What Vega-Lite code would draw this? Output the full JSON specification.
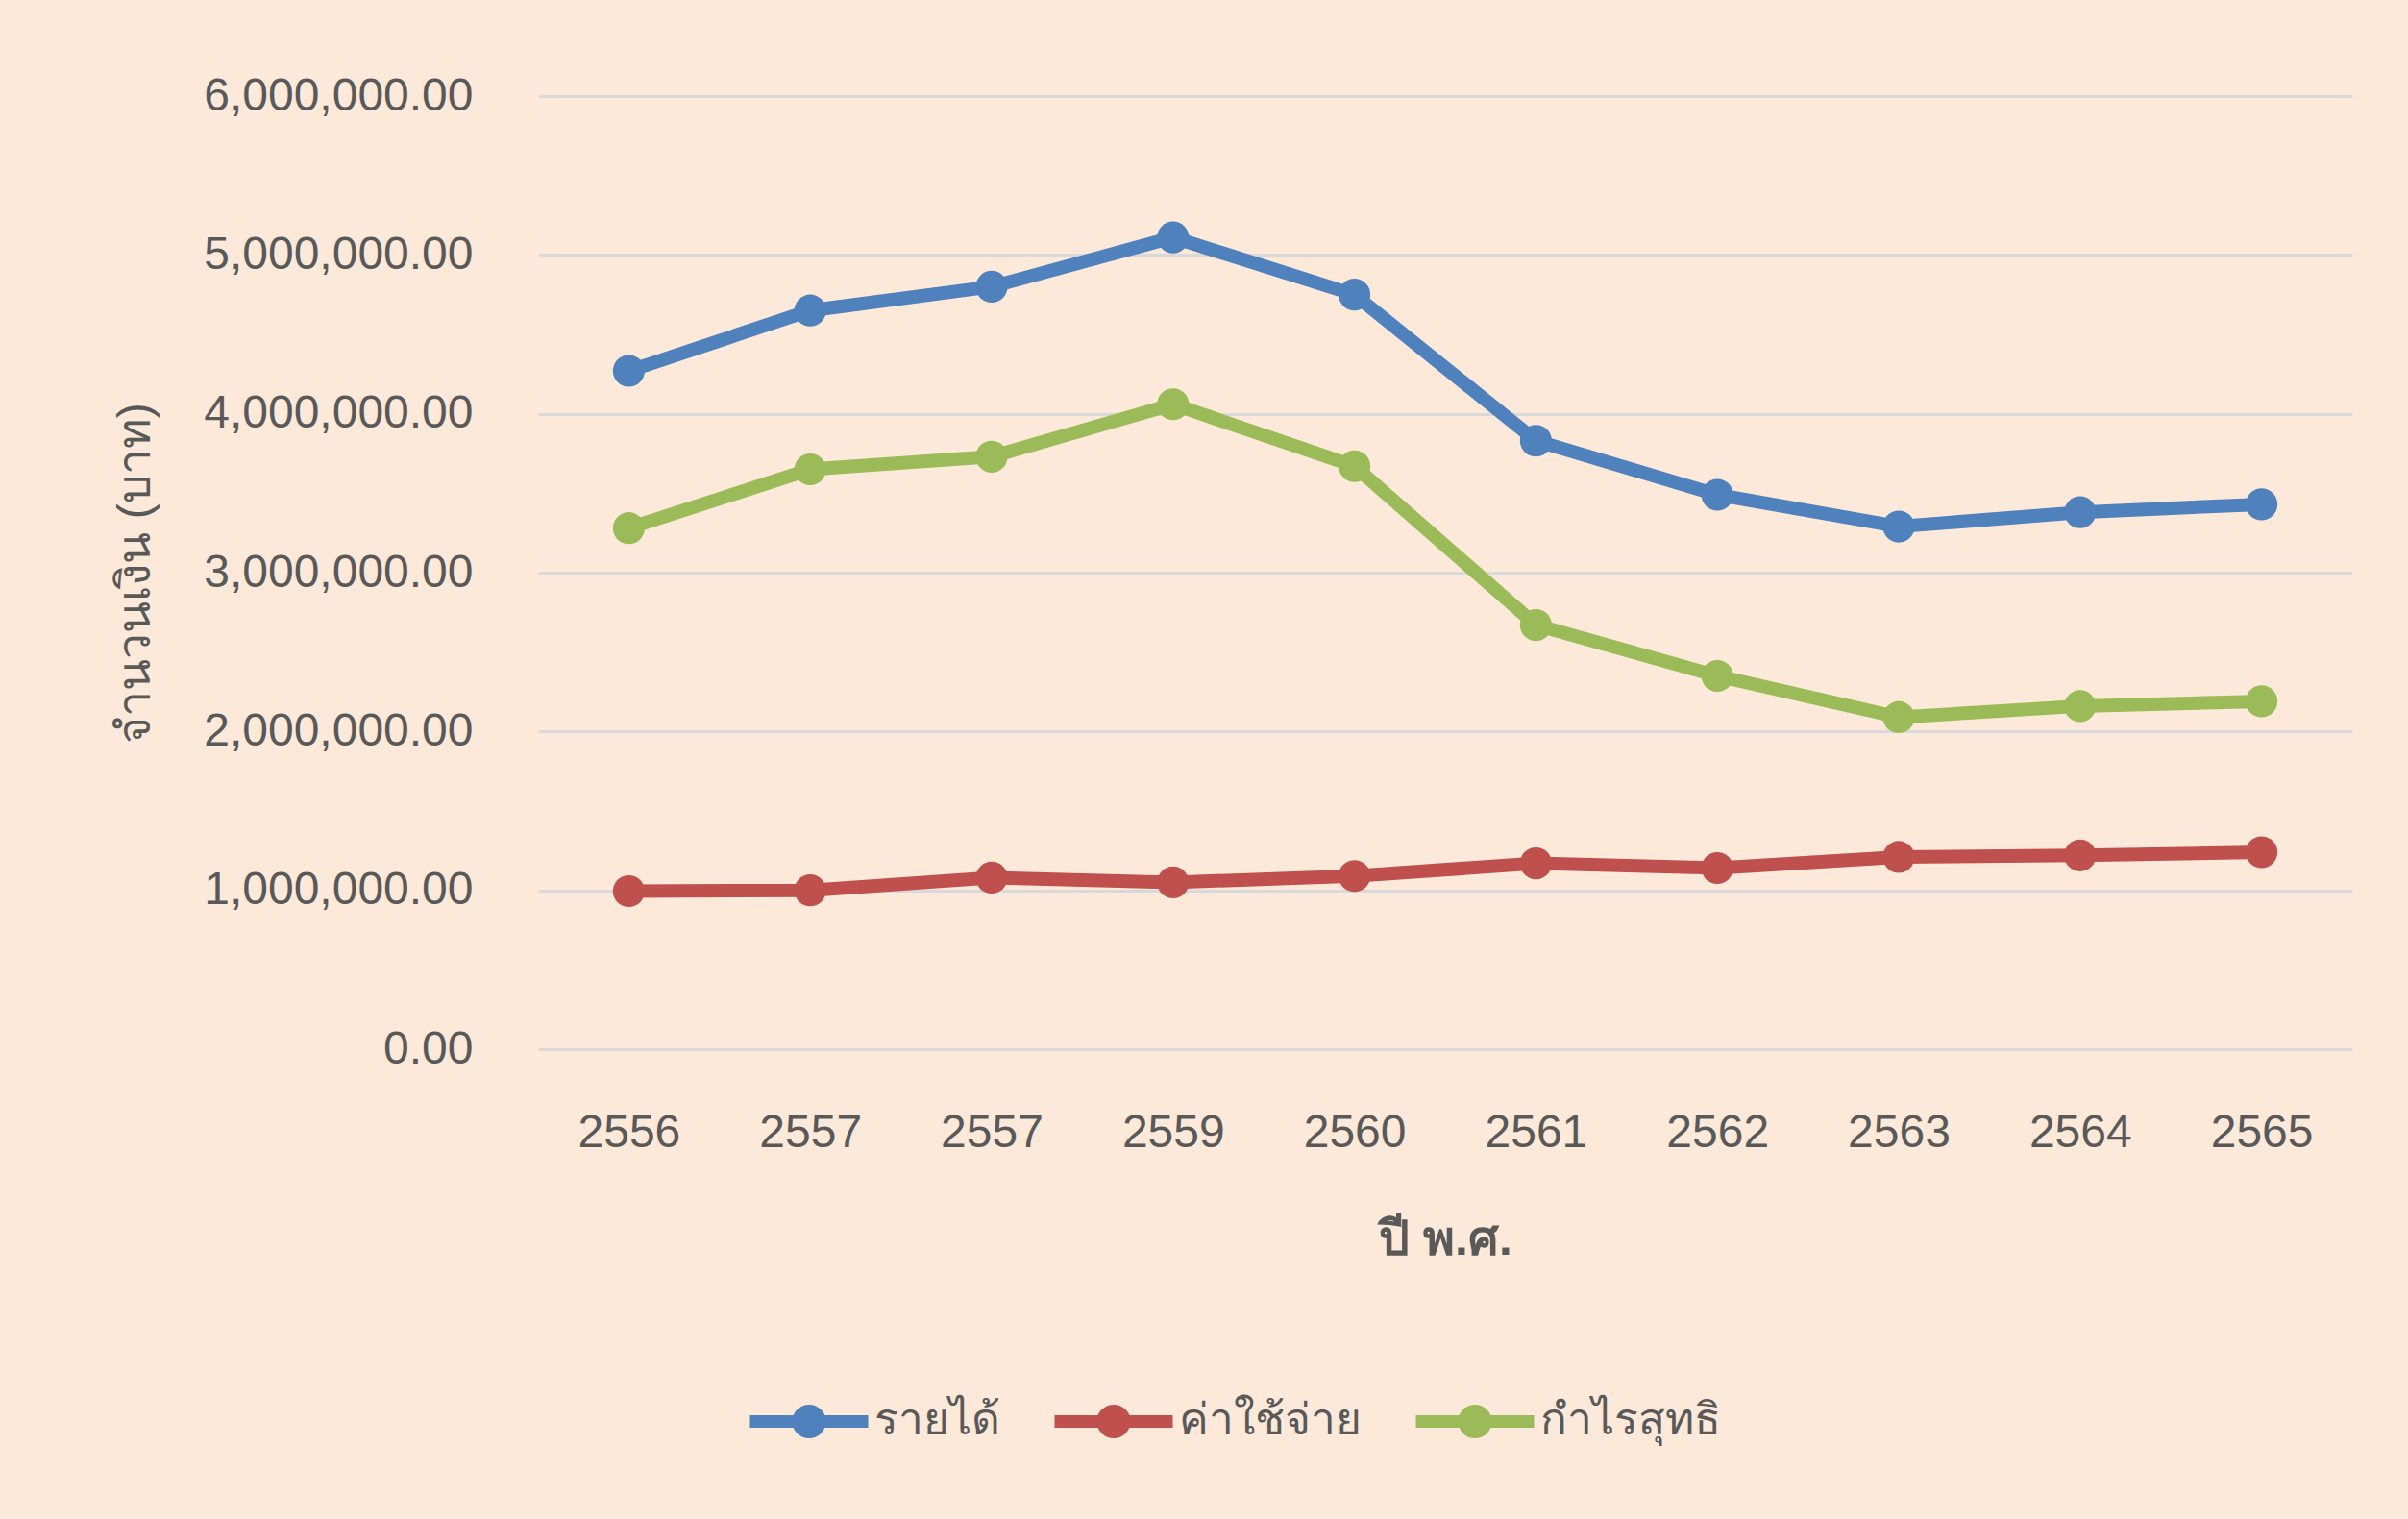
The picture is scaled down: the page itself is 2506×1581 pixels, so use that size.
{
  "$schema": "https://vega.github.io/schema/vega-lite/v6.json",
  "width": 1888,
  "height": 992,
  "autosize": {"type": "none"},
  "padding": {"left": 560, "top": 100, "right": 58, "bottom": 489},
  "background": "#FDE9D9",
  "config": {"view": {"stroke": null}, "font": "Liberation Sans"},
  "data": {
    "values": [
      {"ปี": "2556", "รายการ": "รายได้", "จำนวนเงิน": 4270000},
      {"ปี": "2557", "รายการ": "รายได้", "จำนวนเงิน": 4650000},
      {"ปี": "2557 ", "รายการ": "รายได้", "จำนวนเงิน": 4800000},
      {"ปี": "2559", "รายการ": "รายได้", "จำนวนเงิน": 5110000},
      {"ปี": "2560", "รายการ": "รายได้", "จำนวนเงิน": 4750000},
      {"ปี": "2561", "รายการ": "รายได้", "จำนวนเงิน": 3830000},
      {"ปี": "2562", "รายการ": "รายได้", "จำนวนเงิน": 3490000},
      {"ปี": "2563", "รายการ": "รายได้", "จำนวนเงิน": 3290000},
      {"ปี": "2564", "รายการ": "รายได้", "จำนวนเงิน": 3380000},
      {"ปี": "2565", "รายการ": "รายได้", "จำนวนเงิน": 3430000},
      {"ปี": "2556", "รายการ": "ค่าใช้จ่าย", "จำนวนเงิน": 995000},
      {"ปี": "2557", "รายการ": "ค่าใช้จ่าย", "จำนวนเงิน": 1000000},
      {"ปี": "2557 ", "รายการ": "ค่าใช้จ่าย", "จำนวนเงิน": 1080000},
      {"ปี": "2559", "รายการ": "ค่าใช้จ่าย", "จำนวนเงิน": 1050000},
      {"ปี": "2560", "รายการ": "ค่าใช้จ่าย", "จำนวนเงิน": 1090000},
      {"ปี": "2561", "รายการ": "ค่าใช้จ่าย", "จำนวนเงิน": 1170000},
      {"ปี": "2562", "รายการ": "ค่าใช้จ่าย", "จำนวนเงิน": 1140000},
      {"ปี": "2563", "รายการ": "ค่าใช้จ่าย", "จำนวนเงิน": 1210000},
      {"ปี": "2564", "รายการ": "ค่าใช้จ่าย", "จำนวนเงิน": 1220000},
      {"ปี": "2565", "รายการ": "ค่าใช้จ่าย", "จำนวนเงิน": 1240000},
      {"ปี": "2556", "รายการ": "กำไรสุทธิ", "จำนวนเงิน": 3280000},
      {"ปี": "2557", "รายการ": "กำไรสุทธิ", "จำนวนเงิน": 3650000},
      {"ปี": "2557 ", "รายการ": "กำไรสุทธิ", "จำนวนเงิน": 3730000},
      {"ปี": "2559", "รายการ": "กำไรสุทธิ", "จำนวนเงิน": 4060000},
      {"ปี": "2560", "รายการ": "กำไรสุทธิ", "จำนวนเงิน": 3670000},
      {"ปี": "2561", "รายการ": "กำไรสุทธิ", "จำนวนเงิน": 2670000},
      {"ปี": "2562", "รายการ": "กำไรสุทธิ", "จำนวนเงิน": 2350000},
      {"ปี": "2563", "รายการ": "กำไรสุทธิ", "จำนวนเงิน": 2090000},
      {"ปี": "2564", "รายการ": "กำไรสุทธิ", "จำนวนเงิน": 2160000},
      {"ปี": "2565", "รายการ": "กำไรสุทธิ", "จำนวนเงิน": 2190000}
    ]
  },
  "encoding": {
    "x": {
      "field": "ปี",
      "type": "ordinal",
      "scale": {"type": "point", "padding": 0.5},
      "axis": {
        "title": "ปี พ.ศ.",
        "labelExpr": "trim(datum.label)",
        "labelAngle": 0,
        "labelFont": "Liberation Sans",
        "labelFontSize": 48,
        "labelColor": "#595959",
        "labelPadding": 63,
        "ticks": false,
        "domain": false,
        "grid": false,
        "titleFontSize": 50,
        "titleFontWeight": "bold",
        "titleColor": "#595959",
        "titlePadding": 62
      }
    },
    "y": {
      "field": "จำนวนเงิน",
      "type": "quantitative",
      "scale": {"domain": [0, 6000000], "nice": false},
      "axis": {
        "title": "จำนวนเงิน (บาท)",
        "values": [0, 1000000, 2000000, 3000000, 4000000, 5000000, 6000000],
        "format": ",.2f",
        "labelFont": "Liberation Sans",
        "labelFontSize": 48,
        "labelColor": "#595959",
        "labelPadding": 68,
        "labelLimit": 400,
        "ticks": false,
        "domain": false,
        "grid": true,
        "gridColor": "#D9D9D9",
        "gridWidth": 3,
        "titleFontSize": 48,
        "titleFontWeight": "normal",
        "titleColor": "#595959",
        "titleAngle": -90,
        "titleX": -395,
        "titleY": 496,
        "titleAlign": "center",
        "titleBaseline": "bottom"
      }
    },
    "color": {
      "field": "รายการ",
      "type": "nominal",
      "scale": {
        "domain": ["รายได้", "ค่าใช้จ่าย", "กำไรสุทธิ"],
        "range": ["#4F81BD", "#C0504D", "#9BBB59"]
      },
      "legend": {
        "title": null,
        "orient": "none",
        "legendX": 214,
        "legendY": 1311,
        "direction": "horizontal",
        "columns": 3,
        "symbolType": "M-1,0L1,0M0.18,0A0.18,0.18,0,1,1,-0.18,0A0.18,0.18,0,1,1,0.18,0Z",
        "symbolSize": 15129,
        "symbolStrokeWidth": 13,
        "labelFontSize": 46,
        "labelLimit": 400,
        "labelColor": "#595959",
        "labelOffset": 0,
        "columnPadding": 30,
        "encode": {
          "symbols": {
            "update": {
              "fill": {"scale": "color", "field": "value"},
              "stroke": {"scale": "color", "field": "value"},
              "opacity": {"value": 1}
            }
          }
        }
      }
    }
  },
  "layer": [
    {"mark": {"type": "line", "strokeWidth": 14}},
    {"mark": {"type": "point", "shape": "circle", "filled": true, "size": 1100, "opacity": 1}}
  ]
}
